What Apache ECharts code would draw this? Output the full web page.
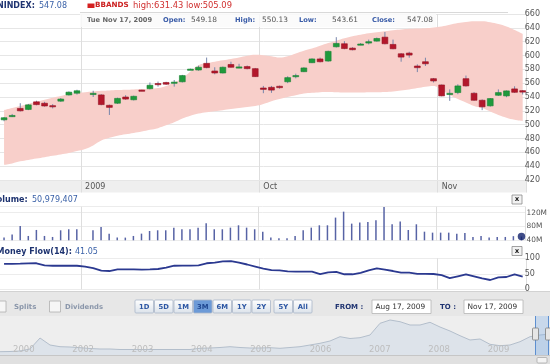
<!DOCTYPE html>
<html><head><meta charset="utf-8">
<script src="https://cdn.jsdelivr.net/npm/echarts@6/dist/echarts.min.js"></script>
<style>html,body{margin:0;padding:0;background:#fff}#c{width:550px;height:364px}</style>
</head><body><div id="c"></div><script>
// ---------- data ----------
const categories = ['Aug 18','Aug 19','Aug 20','Aug 21','Aug 24','Aug 25','Aug 26','Aug 27','Aug 28','Aug 31',
 'Sep 1','Sep 2','Sep 3','Sep 4','Sep 7','Sep 8','Sep 9','Sep 10','Sep 11','Sep 14','Sep 15','Sep 16','Sep 17','Sep 18','Sep 21','Sep 22','Sep 23','Sep 24','Sep 25','Sep 28','Sep 29','Sep 30',
 'Oct 1','Oct 2','Oct 5','Oct 6','Oct 7','Oct 8','Oct 9','Oct 12','Oct 13','Oct 14','Oct 15','Oct 16','Oct 19','Oct 20','Oct 21','Oct 22','Oct 23','Oct 26','Oct 27','Oct 28','Oct 29','Oct 30',
 'Nov 2','Nov 3','Nov 4','Nov 5','Nov 6','Nov 9','Nov 10','Nov 11','Nov 12','Nov 13','Nov 16'];
const opens = [507,513,523.5,522,533,531,527.5,534,543,545.5, null,
 545,543,528,531,540,536,550,552,559.5,561,561,562,580,579,588.6,577.6,574.7,587,583,584,581,
 553,554,555.5,562,570.5,576.6,589.6,595,592,612.6,617,610.7,616.3,618,620.8,626.5,616,602.5,603.5,584.8,591,566.5,
 557.4,545,546.4,566.5,545.4,535.3,527.2,542.5,541.6,551.7,549.18];
const closes = [510,513.3,520,528.6,529,527,527,537,547,549, null,
 545.3,529,525,538,537,541,549,557,558.5,558.5,561.5,571,580.3,583,582.5,574.7,583,583,583.5,581,569.5,
 551,550,553.5,568,571,582,595,591,606,617.4,610,608.3,616.6,620,624.6,617,609.7,597.7,600.6,582.4,588,563.2,
 541.6,545.3,556,556,535.3,525.8,537.7,546.4,548.8,546.8,547.08];
const lows = [505,511,519,521,528,526,523.5,533,542,543.5, null,
 540,528,514,530,536,535,548.5,551,555,557.5,555,561,579,578,581.5,572.8,574,582.5,581.5,580,569,
 545.5,546,552,560,567,576,589,590,591,611.5,609,607.5,615,616,620,616,609,591,596.8,576,584.8,561,
 541,534.4,544,555,534.5,521,526,541.5,539.7,546,543.61];
const highs = [511,515.5,531,530,534.6,533,529.7,538.5,548,550.5, null,
 549,544,529,539,542.6,542,550.5,561,562.3,562,564.6,572,581,585.3,597,583,584,591,588,585.5,582,
 556,556,556.5,570,573.7,583,596,597,607,626.5,620.7,612,618,623,626,634,623,603.5,605.4,587.2,596.8,567.5,
 558,551,558.4,571,547,536.5,538.5,551,549.5,555.5,550.13];
const bbUpper = [521,524,527,530,533,536,539,541.5,544,546,
 547,548,549,549.5,550,550.5,551,551.5,552,553,
 556,561,567,577,586,589,591,593,595,597,
 599.5,601,600.5,599,597,599,603,607,610,614,
 618,621.5,625,628,630,632,633.5,635,636.5,637.5,
 638.5,639,639.5,640.5,642,644.5,647,648.5,649.5,649.5,
 648,645.5,642,637,631.43];
const bbLower = [442,444,447,449,451,453,455,457,459,462,
 465,470,477,481,484,486,488,490,492.5,495,
 499,503.5,509,513,516,518,519.5,521,522.5,524,
 525.5,527,530,534,537,540,542.5,545,546,547,
 547.3,547,546.5,546.5,546.5,546.8,547,547.3,548,549.5,
 551,553,555,556,550,543,537,532,527,524,
 519,514,510,507,505.09];
const volumesM = [47.8,57,81.6,52.6,70,52.6,49.7,69,72,72, null,
 69,78.7,59.3,47.8,47.8,52.6,59.3,67,69,69,
 76.7,72,72,76.7,89.3,72,72,76.7,83.5,76.7,
 72,
 65,47.8,45.8,45.8,52.6,69,76.7,83.5,83.5,
 105.8,123,88.3,91.3,93.2,98,136.7,86.4,94.2,69.9,
 86.4,65,62.2,62.2,62.2,59.3,61.3,49.7,52.6,47.8,
 49.7,49.7,52,50.98];
const moneyFlow = [82,82,82.5,83.5,84,77,76,76,76,76,
 73,68,60,59,64,64.5,64.5,63.5,64,65.5,
 70,76,76.5,76.5,77,84,86,90,91,86,
 80,73.5,67,62,61,58,57,57,57,49,
 54.5,56,48.5,48.5,53,61,67.5,63.5,59,54,
 53.5,50,49.5,49.4,45.5,36,42,48,41.5,35,
 30,38.5,39.7,48,41.05];
const navHistory = [3.3,3.5,4,6,17,10,8.3,8,7.3,6.5,
 6,6,5.5,5.5,5.5,5.5,5.5,5.5,5.5,5.5,
 6.7,7,7.5,8.3,7.5,7,7,7.3,6.7,7.5,
 8.3,10,11.7,14,18.3,16.5,17.3,20,31.7,35,
 33.3,30,30,32.7,28,24,19.3,15,16,10.7,
 9.3,10,13.3,18.3,20,21];
const navYears = ['2000','2002','2003','2004','2005','2006','2007','2008','2009'];
const monthTickCats = ['Sep 1','Oct 1','Nov 2'];
const monthTickLabels = ['2009','Oct','Nov'];
const rangeButtons = ['1D','5D','1M','3M','6M','1Y','2Y','5Y','All'];
const selectedRange = '3M';

// ---------- chart ----------
const FONT = '"DejaVu Sans", Verdana, sans-serif';
const chart = echarts.init(document.getElementById('c'));
const GL = -2.37, GW = 529.1;
const N = categories.length;
const monthIdx = monthTickCats.map(c => categories.indexOf(c));
const splitX = { show: true, interval: (i) => monthIdx.indexOf(i) >= 0, lineStyle: { color: '#dedede', width: 1 } };
const candleData = [];
opens.forEach((o, i) => { if (o != null) candleData.push([i, o, closes[i], lows[i], highs[i]]); });
const bandWidth = bbUpper.map((u, i) => +(u - bbLower[i]).toFixed(2));
const lastVol = volumesM[N - 1];

function catAxis(gi, extra) {
  return Object.assign({ type: 'category', gridIndex: gi, data: categories, boundaryGap: true,
    axisLine: { show: false }, axisTick: { show: false }, axisLabel: { show: false }, splitLine: splitX }, extra || {});
}
const axLbl = { color: '#555', fontSize: 8, fontFamily: FONT };

function renderCandle(params, api) {
  const x = api.value(0), o = api.value(1), c = api.value(2), l = api.value(3), h = api.value(4);
  const pO = api.coord([x, o]), pC = api.coord([x, c]), pL = api.coord([x, l]), pH = api.coord([x, h]);
  const bw = api.size([1, 0])[0] * 0.72;
  const up = c >= o;
  const top = Math.min(pO[1], pC[1]);
  const hh = Math.max(1.2, Math.abs(pO[1] - pC[1]));
  const cx = pO[0];
  return { type: 'group', children: [
    { type: 'line', shape: { x1: cx, y1: pH[1], x2: cx, y2: pL[1] }, style: { stroke: '#7886ab', lineWidth: 1 } },
    { type: 'rect', shape: { x: cx - bw / 2, y: top, width: bw, height: hh },
      style: { fill: up ? '#1f9a3c' : '#b3172b', stroke: up ? '#188232' : '#951223', lineWidth: 0.6 } }
  ] };
}

function txt(x, y, t, size, color, bold, extra) {
  return Object.assign({ type: 'text', x: x, y: y, z: 100,
    style: { text: t, fontSize: size, fontFamily: FONT, fontWeight: bold ? 'bold' : 'normal', fill: color, verticalAlign: 'middle', align: 'left' } }, extra || {});
}
const graphics = [
  { type: 'rect', z: -10, shape: { x: 0, y: 291, width: 550, height: 73 }, style: { fill: '#e7e7e7' } },
  { type: 'line', z: -10, shape: { x1: 0, y1: 291.5, x2: 550, y2: 291.5 }, style: { stroke: '#d2d2d2', lineWidth: 1 } },
  { type: 'rect', z: -9, shape: { x: 0, y: 316, width: 550, height: 39 }, style: { fill: '#eeeeee' } },
  { type: 'line', z: 100, shape: { x1: 0, y1: 355.5, x2: 550, y2: 355.5 }, style: { stroke: '#c6c6c6', lineWidth: 1 } },
  { type: 'rect', z: -9, shape: { x: 0, y: 356, width: 550, height: 8 }, style: { fill: '#e0e0e0' } },
  { type: 'rect', z: 100, shape: { x: 537, y: 357.5, width: 10, height: 5.5, r: 1 }, style: { fill: '#f3f3f3', stroke: '#a9a9a9', lineWidth: 0.8 } },
  { type: 'rect', z: 99, shape: { x: 535.5, y: 316, width: 13, height: 39 }, style: { fill: 'rgba(130,175,230,0.35)' } },
  { type: 'line', z: 99, shape: { x1: 535.5, y1: 316, x2: 535.5, y2: 355 }, style: { stroke: '#5d8fd0', lineWidth: 1 } },
  { type: 'line', z: 99, shape: { x1: 548.5, y1: 316, x2: 548.5, y2: 355 }, style: { stroke: '#5d8fd0', lineWidth: 1 } },
  { type: 'rect', z: 100, shape: { x: 532.5, y: 328, width: 6, height: 12, r: 1 }, style: { fill: '#e6e6e6', stroke: '#7d7d7d', lineWidth: 0.8 } },
  { type: 'rect', z: 100, shape: { x: 545.5, y: 328, width: 6, height: 12, r: 1 }, style: { fill: '#e6e6e6', stroke: '#7d7d7d', lineWidth: 0.8 } },
  { type: 'rect', z: 50, shape: { x: 80, y: 12.5, width: 356, height: 14.5 }, style: { fill: 'rgba(250,250,250,0.85)' } },
  { type: 'line', z: 50, shape: { x1: 80, y1: 12.5, x2: 508, y2: 12.5 }, style: { stroke: '#d9d9d9', lineWidth: 1 } },
  txt(87, 20.5, 'Tue Nov 17, 2009', 6.7, '#666', true),
  txt(163, 20.5, 'Open:', 6.7, '#3a5ca8', true), txt(191, 20.5, '549.18', 7.4, '#555', false),
  txt(235, 20.5, 'High:', 6.7, '#3a5ca8', true), txt(262, 20.5, '550.13', 7.4, '#555', false),
  txt(299, 20.5, 'Low:', 6.7, '#3a5ca8', true), txt(332, 20.5, '543.61', 7.4, '#555', false),
  txt(372, 20.5, 'Close:', 6.7, '#3a5ca8', true), txt(407, 20.5, '547.08', 7.4, '#555', false),
  txt(-3, 5.5, 'NINDEX:', 8, '#1e3370', true), txt(39, 5.5, '547.08', 8, '#3b62a8', false),
  { type: 'rect', z: 100, shape: { x: 87.5, y: 3.5, width: 7, height: 4.5 }, style: { fill: '#d42020' } },
  txt(95, 5.5, 'BBANDS', 7.2, '#cc2222', true),
  txt(133, 5.5, 'high:631.43 low:505.09', 8.4, '#d03030', false),
  txt(-9, 199.5, 'Volume:', 8, '#1e3370', true), txt(32, 199.5, '50,979,407', 8, '#3b62a8', false),
  txt(-3.4, 251.5, 'Money Flow(14):', 8, '#1e3370', true), txt(75, 251.5, '41.05', 8, '#3b62a8', false),
  { type: 'rect', z: 100, shape: { x: 512, y: 195, width: 10, height: 9 }, style: { fill: '#f2f2f2', stroke: '#8a8a8a', lineWidth: 0.8 } },
  txt(517, 199.5, 'x', 7, '#222', true, { style: { text: 'x', fontSize: 7, fontFamily: FONT, fontWeight: 'bold', fill: '#222', align: 'center', verticalAlign: 'middle' } }),
  { type: 'rect', z: 100, shape: { x: 512, y: 246.5, width: 10, height: 9 }, style: { fill: '#f2f2f2', stroke: '#8a8a8a', lineWidth: 0.8 } },
  txt(517, 251, 'x', 7, '#222', true, { style: { text: 'x', fontSize: 7, fontFamily: FONT, fontWeight: 'bold', fill: '#222', align: 'center', verticalAlign: 'middle' } }),
  { type: 'rect', z: 100, shape: { x: -4, y: 301, width: 10, height: 11 }, style: { fill: '#f6f6f6', stroke: '#b0b0b0', lineWidth: 0.8 } },
  txt(14, 307, 'Splits', 7, '#8a96aa', true),
  { type: 'rect', z: 100, shape: { x: 49.5, y: 301, width: 11, height: 11 }, style: { fill: '#f6f6f6', stroke: '#b0b0b0', lineWidth: 0.8 } },
  txt(65, 307, 'Dividends', 6.8, '#8a96aa', true),
  txt(335, 307, 'FROM :', 7, '#1f3370', true),
  { type: 'rect', z: 100, shape: { x: 372, y: 300, width: 59, height: 13.5 }, style: { fill: '#ffffff', stroke: '#b5b5b5', lineWidth: 0.8 } },
  txt(375.5, 307, 'Aug 17, 2009', 7.4, '#333', false),
  txt(440, 307, 'TO :', 7, '#1f3370', true),
  { type: 'rect', z: 100, shape: { x: 464, y: 300, width: 59, height: 13.5 }, style: { fill: '#ffffff', stroke: '#b5b5b5', lineWidth: 0.8 } },
  txt(467.5, 307, 'Nov 17, 2009', 7.4, '#333', false)
];
const btnX = [135, 154.5, 174, 193.5, 213, 232.5, 252, 274, 293.5];
rangeButtons.forEach((b, k) => {
  const sel = b === selectedRange;
  graphics.push({ type: 'rect', z: 100, shape: { x: btnX[k], y: 300, width: 18.5, height: 13, r: 1 },
    style: { fill: sel ? '#6c9ad7' : new echarts.graphic.LinearGradient(0, 0, 0, 1, [{ offset: 0, color: '#ffffff' }, { offset: 1, color: '#dbe2ea' }]),
      stroke: '#a9b6c9', lineWidth: 0.8 } });
  graphics.push({ type: 'text', z: 101, x: btnX[k] + 9.25, y: 306.8,
    style: { text: b, fontSize: 6.8, fontFamily: FONT, fontWeight: 'bold', fill: sel ? '#1f4690' : '#2c56a3', align: 'center', verticalAlign: 'middle' } });
});

const option = {
  animation: false,
  backgroundColor: '#ffffff',
  textStyle: { fontFamily: FONT },
  grid: [
    { left: GL, width: GW, top: 14, height: 166 },
    { left: GL, width: GW, top: 181, height: 11.5, show: true, backgroundColor: '#efefef', borderWidth: 0, z: -1 },
    { left: GL, width: GW, top: 206.7, height: 33.6 },
    { left: GL, width: GW, top: 258.3, height: 31 },
    { left: 0, right: 0, top: 315, height: 40 },
    { left: 13, width: 550, top: 315, height: 40 }
  ],
  xAxis: [
    catAxis(0, { axisLabel: { show: true, interval: (i) => monthIdx.indexOf(i) >= 0,
      formatter: (v) => { const k = monthTickCats.indexOf(v); return k >= 0 ? monthTickLabels[k] : ''; },
      align: 'left', margin: 3, color: '#555', fontSize: 8, fontFamily: FONT } }),
    catAxis(1), catAxis(2), catAxis(3),
    { type: 'category', gridIndex: 4, data: navHistory.map((_, i) => i), boundaryGap: false, show: false },
    { type: 'value', gridIndex: 5, min: 0, max: 9, interval: 1, z: 20, axisLine: { show: false }, axisTick: { show: false }, splitLine: { show: false },
      axisLabel: { inside: true, margin: 1, align: 'left', color: '#bdbdbd', fontSize: 8.5, fontFamily: FONT,
        formatter: (v) => navYears[v] || '' } }
  ],
  yAxis: [
    { type: 'value', gridIndex: 0, min: 420, max: 660, interval: 20, position: 'right',
      axisLine: { show: false }, axisTick: { show: false }, splitLine: { lineStyle: { color: '#e6e6e6' } },
      axisLabel: Object.assign({ margin: -2 }, axLbl) },
    { type: 'value', gridIndex: 1, show: false },
    { type: 'value', gridIndex: 2, min: 40, max: 137.4, interval: 40, position: 'right',
      axisLine: { show: false }, axisTick: { show: false }, splitLine: { lineStyle: { color: '#ececec' } },
      axisLabel: Object.assign({ margin: 1, formatter: (v) => (v % 40 === 0 ? v + 'M' : '') }, axLbl, { fontSize: 7.4 }) },
    { type: 'value', gridIndex: 3, min: 0, max: 100, interval: 50, position: 'right',
      axisLine: { show: false }, axisTick: { show: false }, splitLine: { lineStyle: { color: '#ececec' } },
      axisLabel: Object.assign({ margin: -2 }, axLbl) },
    { type: 'value', gridIndex: 4, min: 0, max: 40, show: false },
    { type: 'value', gridIndex: 5, show: false }
  ],
  series: [
    { type: 'line', name: 'bbLower', xAxisIndex: 0, yAxisIndex: 0, data: bbLower, stack: 'bb', smooth: 0.4,
      symbol: 'none', lineStyle: { opacity: 0 }, z: 1, silent: true },
    { type: 'line', name: 'bbBand', xAxisIndex: 0, yAxisIndex: 0, data: bandWidth, stack: 'bb', smooth: 0.4,
      symbol: 'none', lineStyle: { opacity: 0 }, areaStyle: { color: '#f8cfca', opacity: 1 }, z: 1, silent: true },
    { type: 'custom', name: 'price', xAxisIndex: 0, yAxisIndex: 0, data: candleData, renderItem: renderCandle,
      encode: { x: 0, y: [1, 2, 3, 4] }, z: 3 },
    { type: 'bar', name: 'volume', xAxisIndex: 2, yAxisIndex: 2, data: volumesM, barWidth: 1.5,
      itemStyle: { color: '#5763a5' } },
    { type: 'scatter', name: 'lastVolume', xAxisIndex: 2, yAxisIndex: 2, data: [[N - 1, lastVol]], symbolSize: 7.5,
      itemStyle: { color: '#0f1f6a' }, z: 5 },
    { type: 'line', name: 'moneyFlow', xAxisIndex: 3, yAxisIndex: 3, data: moneyFlow, symbol: 'none',
      lineStyle: { color: '#2b3990', width: 1.8 } },
    { type: 'line', name: 'history', xAxisIndex: 4, yAxisIndex: 4, data: navHistory, symbol: 'none',
      lineStyle: { color: '#b3becb', width: 1 }, areaStyle: { color: '#dde3ea', opacity: 1 } }
  ],
  graphic: { elements: graphics }
};
chart.setOption(option);
</script></body></html>
